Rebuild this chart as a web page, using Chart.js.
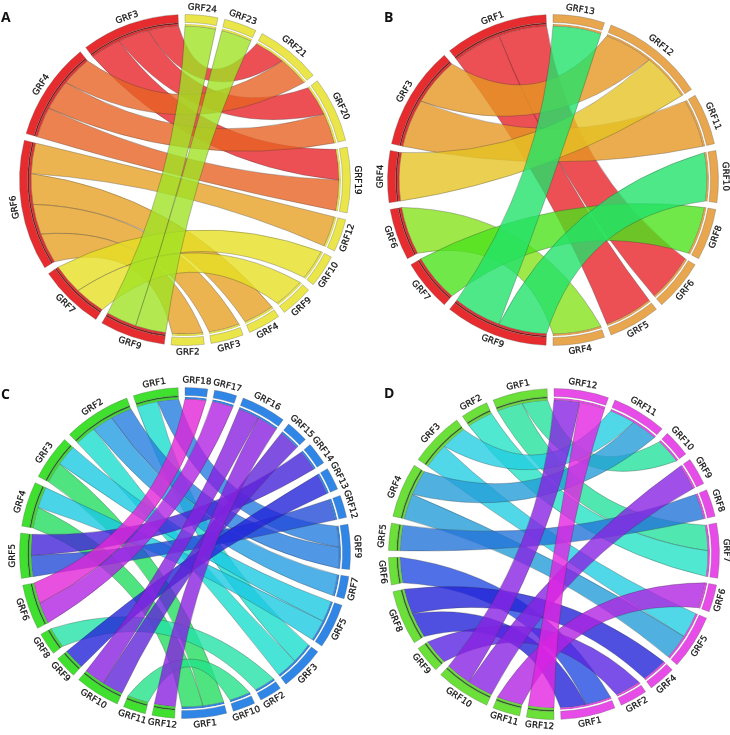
<!DOCTYPE html>
<html>
<head>
<meta charset="utf-8">
<title>GRF chord diagrams</title>
<script src="https://cdn.jsdelivr.net/npm/chart.js@4"></script>
<style>
  html, body { margin: 0; background: #fff; }
  #wrap { position: relative; width: 730px; height: 735px; overflow: hidden; }
  canvas { position: absolute; }
  .tag { position: absolute; font: bold 14px "Open Sans", sans-serif; color: #111; line-height: 18px; }
</style>
</head>
<body>
<div id="wrap">
  <canvas id="a" width="380" height="380" style="left:-5px;top:-10px"></canvas>
  <canvas id="b" width="380" height="380" style="left:363px;top:-10px"></canvas>
  <canvas id="c" width="380" height="380" style="left:-5px;top:363px"></canvas>
  <canvas id="d" width="380" height="380" style="left:364px;top:364px"></canvas>
  <div class="tag" style="left:1px;top:8px">A</div>
  <div class="tag" style="left:384px;top:8px">B</div>
  <div class="tag" style="left:1px;top:385px">C</div>
  <div class="tag" style="left:384px;top:384px">D</div>
</div>
<script>
// sectors run clockwise from 12 o'clock, one unit = one link end
const namesA = ['GRF24','GRF23','GRF21','GRF20','GRF19','GRF12','GRF10','GRF9','GRF4','GRF3','GRF2','GRF9','GRF7','GRF6','GRF4','GRF3'];
const unitsA = [1,1,2,2,2,1,1,1,1,1,1,2,2,4,3,3];
const toA    = [0,1,2,2,3,3,4,4,5,6,7,8,9,10];
const fromA  = [11,11,15,14,15,14,15,14,13,12,12,13,13,13];

const namesB = ['GRF13','GRF12','GRF11','GRF10','GRF8','GRF6','GRF5','GRF4','GRF9','GRF7','GRF6','GRF4','GRF3','GRF1'];
const unitsB = [1,2,1,1,1,1,1,1,2,1,1,1,2,2];
const toB    = [0,1,1,2,3,4,5,6,7];
const fromB  = [8,12,11,12,8,9,13,13,10];

const namesC = ['GRF18','GRF17','GRF16','GRF15','GRF14','GRF13','GRF12','GRF9','GRF7','GRF5','GRF3','GRF2','GRF10','GRF1',
                'GRF12','GRF11','GRF10','GRF9','GRF8','GRF6','GRF5','GRF4','GRF3','GRF2','GRF1'];
const unitsC = [1,1,2,1,1,1,1,2,1,2,2,1,1,2,1,1,2,1,1,2,2,2,2,3,2];
const toC    = [0,1,2,2,3,4,5,6,7,7,8,9,9,10,10,11,12,13,13];
const fromC  = [19,19,16,14,16,20,17,20,24,23,23,22,21,24,23,18,15,22,21];

const namesD = ['GRF12','GRF11','GRF10','GRF9','GRF8','GRF7','GRF6','GRF5','GRF4','GRF2','GRF1',
                'GRF12','GRF11','GRF10','GRF9','GRF8','GRF6','GRF5','GRF4','GRF3','GRF2','GRF1'];
const unitsD = [2,2,1,1,1,2,1,2,1,1,2,1,1,2,1,2,1,1,2,2,1,2];
const toD    = [0,0,1,1,2,3,4,5,5,6,7,7,8,9,10,10];
const fromD  = [13,11,19,18,21,13,17,21,20,12,19,18,15,14,16,15];

// ribbon colours, keyed by sector index (source in A, B, D, target in C)
const ribbonA = {11:'#a0e224',12:'#e6e024',13:'#e6a124',14:'#e76324',15:'#e7242a'};
const ribbonB = {8:'#22e26a',9:'#4ce21d',10:'#87e21d',11:'#e5c324',12:'#e69724',13:'#e7242a'};
const ribbonC = {0:'#e224d8',1:'#b024e2',2:'#8822e0',3:'#6024d8',4:'#4524d8',5:'#2424d8',6:'#244cd8',7:'#247ee0',
                 8:'#249ce2',9:'#1bc9e2',10:'#1bddce',11:'#24e2a6',12:'#24e288',13:'#24dd60'};
const ribbonD = {11:'#e224e2',12:'#b024e2',13:'#8824e2',14:'#5924e2',15:'#2424d8',16:'#244ce2',17:'#2474d8',18:'#249cd8',
                 19:'#24cee2',20:'#24e2c4',21:'#24e29c'};

const GAP_DEG = 2.4;
const RADIUS = 165.5;
const CTRL = 0.55;
const WIDEN = 0.06;

function wrap(d) {
  while (d > Math.PI) d -= 2 * Math.PI;
  while (d < -Math.PI) d += 2 * Math.PI;
  return d;
}

const ribbons = {
  id: 'ribbons',
  beforeDatasetsDraw(chart, args, o) {
    const ctx = chart.ctx;
    const outer = chart.getDatasetMeta(0).data;
    const inner = chart.getDatasetMeta(2).data;
    const cx = inner[0].x, cy = inner[0].y, r = inner[0].innerRadius;
    const slice = i => {
      const e = outer[i * 2];
      return { start: e.startAngle, step: (e.endAngle - e.startAngle) / o.units[i] };
    };
    const used = {};
    const ends = o.to.map((t, k) => {
      const f = o.from[k];
      used[t] = (used[t] || 0) + 1;
      used[f] = (used[f] || 0) + 1;
      const ts = slice(t), fs = slice(f);
      const tSlot = used[t] - 1;
      const fSlot = o.units[f] - used[f];
      return { key: o.colorBy === 'to' ? t : f, w: WIDEN * r * Math.sin(fs.step / 2),
        a0: fs.start + fs.step * fSlot, a1: fs.start + fs.step * (fSlot + 1),
        b0: ts.start + ts.step * tSlot, b1: ts.start + ts.step * (tSlot + 1) };
    });
    ends.sort((p, q) => q.key - p.key);
    // shift = signed push along the ribbon's bend direction (ux, uy), keeps the band from pinching
    const curve = (p, q, ux, uy, shift) => {
      const d = wrap(q - p);
      const m = p + d / 2;
      const cr = r * CTRL * Math.pow(Math.cos(d / 2), 2);
      ctx.quadraticCurveTo(
        cx + cr * Math.cos(m) + ux * shift, cy + cr * Math.sin(m) + uy * shift,
        cx + r * Math.cos(q), cy + r * Math.sin(q));
    };
    ctx.save();
    ctx.lineWidth = 0.6;
    ctx.strokeStyle = 'rgba(50,50,50,0.5)';
    ends.forEach(l => {
      const d1 = wrap(l.b0 - l.a1), d2 = wrap(l.a0 - l.b1);
      const firstNear = Math.abs(d1) < Math.abs(d2);
      const m = firstNear ? l.a1 + d1 / 2 : l.b1 + d2 / 2;
      const ux = Math.cos(m), uy = Math.sin(m);
      ctx.beginPath();
      ctx.arc(cx, cy, r, l.a0, l.a1);
      curve(l.a1, l.b0, ux, uy, firstNear ? l.w : -l.w);
      ctx.arc(cx, cy, r, l.b0, l.b1);
      curve(l.b1, l.a0, ux, uy, firstNear ? -l.w : l.w);
      ctx.closePath();
      ctx.globalAlpha = 0.8;
      ctx.fillStyle = o.colors[l.key];
      ctx.fill();
      ctx.globalAlpha = 1;
      ctx.stroke();
    });
    ctx.restore();
  }
};

const sectorLabels = {
  id: 'sectorLabels',
  afterDatasetsDraw(chart, args, o) {
    const ctx = chart.ctx;
    const arcs = chart.getDatasetMeta(0).data;
    ctx.save();
    ctx.font = '8.8px "DejaVu Sans"';
    ctx.fillStyle = '#111';
    ctx.strokeStyle = '#111';
    ctx.lineWidth = 0.25;
    ctx.textAlign = 'center';
    ctx.textBaseline = 'middle';
    o.names.forEach((name, i) => {
      const e = arcs[i * 2];
      const mid = (e.startAngle + e.endAngle) / 2;
      const top = a => (a + Math.PI / 2) * 180 / Math.PI;
      const flip = top(e.startAngle) >= 90 && top(e.endAngle) < 270;
      ctx.save();
      ctx.translate(e.x + (RADIUS + 6.9) * Math.cos(mid), e.y + (RADIUS + 6.9) * Math.sin(mid));
      ctx.rotate(mid + Math.PI / 2 + (flip ? Math.PI : 0));
      ctx.fillText(name, 0, 0);
      ctx.strokeText(name, 0, 0);
      ctx.restore();
    });
    ctx.restore();
  }
};

function drawPanel(id, names, units, to, from, colors, colorBy, splitAt, outColor, inColor, lineColor) {
  const total = units.reduce((a, b) => a + b, 0);
  const gap = total * GAP_DEG / (360 - names.length * GAP_DEG);
  const values = [];
  names.forEach((n, i) => values.push(units[i], gap));
  const labels = [];
  names.forEach(n => labels.push(n, ''));
  const pick = (right, left) => values.map((v, i) => i % 2 ? 'rgba(0,0,0,0)' : (i / 2 < splitAt ? right : left));
  new Chart(document.getElementById(id), {
    type: 'doughnut',
    data: {
      labels: labels,
      datasets: [
        { data: values, weight: 8, backgroundColor: pick(outColor, inColor), borderColor: pick('rgba(90,90,90,.6)', 'rgba(90,90,90,.6)'), borderWidth: 0.5 },
        { data: values, weight: 1.5, backgroundColor: pick('#ffffff', lineColor), borderWidth: 0 },
        { data: values, weight: 2, backgroundColor: pick(outColor, inColor), borderColor: pick('rgba(90,90,90,.6)', 'rgba(90,90,90,.6)'), borderWidth: 0.4 }
      ]
    },
    options: {
      responsive: false,
      animation: false,
      radius: RADIUS,
      cutout: (154 / RADIUS * 100) + '%',
      plugins: {
        legend: { display: false },
        tooltip: { enabled: false },
        ribbons: { units, to, from, colors, colorBy },
        sectorLabels: { names }
      }
    },
    plugins: [ribbons, sectorLabels]
  });
}

drawPanel('a', namesA, unitsA, toA, fromA, ribbonA, 'from', 11, '#eae64a', '#e62c2e', '#7a1c1c');
drawPanel('b', namesB, unitsB, toB, fromB, ribbonB, 'from', 8, '#e8a64e', '#e62c2e', '#7a1c1c');
drawPanel('c', namesC, unitsC, toC, fromC, ribbonC, 'to', 14, '#2f86e6', '#3fe02e', '#1c6a1c');
drawPanel('d', namesD, unitsD, toD, fromD, ribbonD, 'from', 11, '#e84ce8', '#6ae038', '#2a6a1c');
</script>
</body>
</html>
